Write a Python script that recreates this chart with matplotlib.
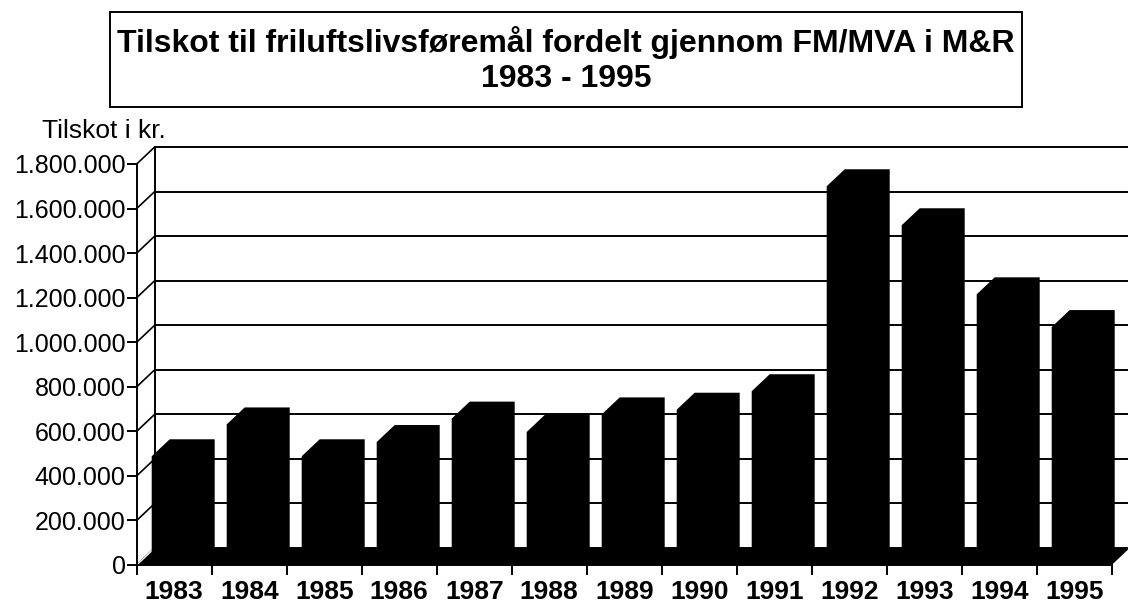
import matplotlib
matplotlib.use("Agg")
import matplotlib.pyplot as plt
from matplotlib.patches import Rectangle

years = ["1983", "1984", "1985", "1986", "1987", "1988", "1989",
         "1990", "1991", "1992", "1993", "1994", "1995"]
tilskot = [488000, 631000, 488000, 552000, 657000, 597000, 676000,
           697000, 780000, 1700000, 1525000, 1215000, 1068000]
yticks = [0, 200000, 400000, 600000, 800000, 1000000, 1200000,
          1400000, 1600000, 1800000]
ytick_labels = ["0", "200.000", "400.000", "600.000", "800.000", "1.000.000",
                "1.200.000", "1.400.000", "1.600.000", "1.800.000"]

title1 = "Tilskot til friluftslivsføremål fordelt gjennom FM/MVA i M&R"
title2 = "1983 - 1995"
ylabel = "Tilskot i kr."

plt.rcParams["font.family"] = ["Liberation Sans", "DejaVu Sans"]

W, H = 1128, 605
fig = plt.figure(figsize=(W / 100, H / 100), dpi=100)

# axes = front plane; back wall is shifted by (dx, dy)
left_px, bottom_px, top_px = 136.7, 565, 147
ax = fig.add_axes([left_px / W, (H - bottom_px) / H,
                   (W - left_px) / W, (bottom_px - top_px) / H])
n = len(years)
ymax = 1800000
dx = 0.24      # depth in categories
dy = 76300     # depth in value units
ax.set_xlim(0, (W - left_px) / 75)
ax.set_ylim(0, ymax + dy)

# back wall
for v in yticks:
    ax.plot([dx, n + 1], [v + dy, v + dy], color="black", lw=1.4, zorder=1,
            clip_on=False)
    ax.plot([0, dx], [v, v + dy], color="black", lw=1.2, zorder=1, clip_on=False)
ax.plot([dx, dx], [dy, ymax + dy], color="black", lw=1.4, zorder=1)

# floor
ax.fill([0, n, n + dx, dx], [0, 0, dy, dy], color="black", lw=0, zorder=2)
ax.plot([0, dx], [0, dy], color="white", lw=1.0, zorder=2.5)

# bars (front face + top + side as one black silhouette)
w = 0.6
for i, v in enumerate(tilskot):
    x0 = i + 0.5 - w / 2
    x1 = x0 + w
    ax.fill([x0, x0, x0 + dx, x1 + dx, x1 + dx, x1],
            [0, v, v + dy, v + dy, dy, 0], color="black", lw=0, zorder=3)

# axes, ticks
for s in ["top", "right"]:
    ax.spines[s].set_visible(False)
ax.spines["left"].set_bounds(0, ymax)
ax.spines["left"].set_linewidth(1.4)
ax.spines["bottom"].set_bounds(0, n)
ax.spines["bottom"].set_linewidth(1.4)
ax.set_yticks(yticks)
ax.set_yticklabels(ytick_labels, fontsize=18)
ax.tick_params(axis="y", length=7, width=1.4, pad=1)
ax.set_xticks([i + 0.5 for i in range(n)])
ax.set_xticklabels(years, fontsize=19, fontweight="bold")
ax.set_xticks(range(n + 1), minor=True)
ax.tick_params(axis="x", which="major", length=0, pad=11)
ax.tick_params(axis="x", which="minor", length=7, width=1.4)
ax.patch.set_visible(False)

# title box
bx0, bx1, by0, by1 = 110, 1022, 12, 107
fig.patches.append(Rectangle((bx0 / W, 1 - by1 / H), (bx1 - bx0) / W, (by1 - by0) / H,
                             transform=fig.transFigure, fill=False,
                             edgecolor="black", lw=1.4))
cx = (bx0 + bx1) / 2 / W
fig.text(cx, 1 - 52 / H, title1, ha="center", va="baseline",
         fontsize=23, fontweight="bold")
fig.text(cx, 1 - 87 / H, title2, ha="center", va="baseline",
         fontsize=23, fontweight="bold")
fig.text(42 / W, 1 - 138 / H, ylabel, ha="left", va="baseline", fontsize=19)

fig.savefig("out.png", dpi=100)
